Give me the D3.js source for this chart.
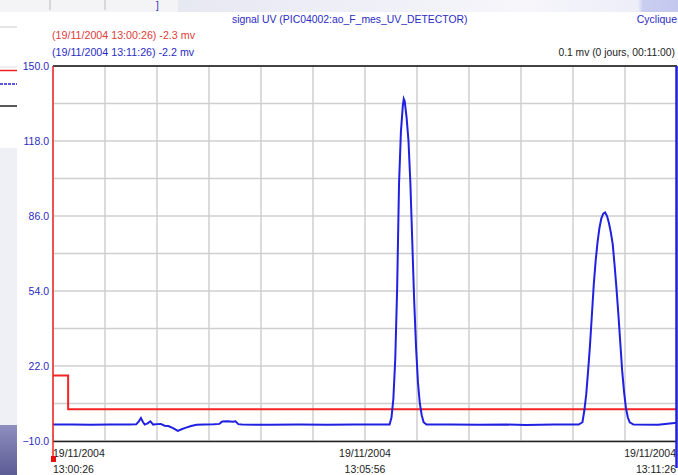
<!DOCTYPE html>
<head>
<meta charset="utf-8">
<style>
body{
    margin:0;
    background:#fff;
}
svg{ display:block; }
text{ font-family:"Liberation Sans", Arial, sans-serif; }
</style>
<title>signal UV</title>
</head>

<body>
<svg id="chart" width="678" height="475"></svg>
<script src="https://d3js.org/d3.v7.min.js"></script>
<script>
// time in seconds after 19/11/2004 13:00:26
var uvTimes = [0,20,40,60,80,88,91,93,95,97,100,103,106,110,114,118,122,127,132,136,140,146,152,160,170,176,179,185,190,193,196,200,230,260,290,320,345,
    356,358,360,362,364,366,368,370,371,372,374,376,378,380,382,384,386,388,390,392,395,
    420,450,480,500,530,556,
    560,562,564,566,568,570,572,574,576,578,580,582,584,586,588,590,592,594,596,598,600,602,604,606,608,610,614,
    640,660];
var uvValues = [-3,-3,-3.1,-3,-3,-2.9,-1.5,-0.2,-1.8,-3,-2.5,-1.6,-3,-2.8,-2.7,-3.5,-3.6,-4.5,-5.7,-5,-4.4,-3.6,-3.1,-3,-2.9,-2.7,-1.7,-1.6,-1.8,-1.6,-2.8,-3,-3.1,-3,-3.1,-3,-3,
    -3,0,8,25,55,100,122,133,136,135,128,118,100,75,50,30,15,6,1,-2,-3,
    -3,-3.1,-3,-3.2,-3,-3,
    -2,3,10,20,31,44,57,67,75,81,85,87,87.5,86,83,79,74,65,55,44,32,20,11,4,0,-2,-3,
    -3.1,-2.2];

var refTimes = [0,16,660];
var refValues = [18,3.5,3.5];

var yTicks = [-10,22,54,86,118,150];
var xLabelTimes = [0,330,660];
var xLabelDates = ["19/11/2004","19/11/2004","19/11/2004"];
var xLabelHours = ["13:00:26","13:05:56","13:11:26"];

var svg = d3.select("#chart");
var m = {l:53, r:677, t:66, b:441};

var x = d3.scaleLinear().domain([0,660]).range([m.l, m.r]);
var y = d3.scaleLinear().domain([-10,150]).range([m.b, m.t]);

var blueTxt = "#2b2bc4", redTxt = "#e03a3a";

// screenshot surroundings
var bg = svg.append("defs");
var g1 = bg.append("linearGradient").attr("id","topg").attr("x1",0).attr("x2",1);
g1.append("stop").attr("offset",0).attr("stop-color","#e6e8f2");
g1.append("stop").attr("offset",0.7).attr("stop-color","#f6f6fb");
g1.append("stop").attr("offset",0.92).attr("stop-color","#eceef8");
g1.append("stop").attr("offset",0.93).attr("stop-color","#c9cdf0");
g1.append("stop").attr("offset",1).attr("stop-color","#c4c8ee");
var g2 = bg.append("linearGradient").attr("id","botg").attr("x1",0).attr("x2",0).attr("y1",0).attr("y2",1);
g2.append("stop").attr("offset",0).attr("stop-color","#8e8fbf");
g2.append("stop").attr("offset",1).attr("stop-color","#5c5c95");

svg.append("rect").attr("x",0).attr("y",0).attr("width",178).attr("height",12).attr("fill","#f4f4f6");
svg.append("rect").attr("x",178).attr("y",0).attr("width",500).attr("height",12).attr("fill","url(#topg)");
[50,105].forEach(function(d){
    svg.append("line").attr("x1",d).attr("x2",d).attr("y1",0).attr("y2",10).attr("stroke","#bbb");
});
svg.append("line").attr("x1",0).attr("x2",17).attr("y1",27).attr("y2",27).attr("stroke","#ccc");
svg.append("text").attr("x",156).attr("y",9).attr("fill",blueTxt).attr("font-size",10).text("]");
svg.append("rect").attr("x",0).attr("y",148).attr("width",17).attr("height",277).attr("fill","#efeff6");
svg.append("rect").attr("x",0).attr("y",425).attr("width",17).attr("height",50).attr("fill","url(#botg)");
svg.append("line").attr("x1",0).attr("x2",17).attr("y1",67).attr("y2",67).attr("stroke","#ddd").attr("stroke-width",1);
svg.append("line").attr("x1",0).attr("x2",17).attr("y1",70.5).attr("y2",70.5).attr("stroke","#f02020").attr("stroke-width",1.5);
svg.append("line").attr("x1",0).attr("x2",17).attr("y1",84).attr("y2",84).attr("stroke","#2424d8").attr("stroke-width",1.5).attr("stroke-dasharray","3,1");
svg.append("line").attr("x1",0).attr("x2",17).attr("y1",106).attr("y2",106).attr("stroke","#222").attr("stroke-width",1.5);

// header texts
svg.append("text").attr("x",232).attr("y",23).attr("fill",blueTxt).attr("font-size",10.4)
    .text("signal UV (PIC04002:ao_F_mes_UV_DETECTOR)");
svg.append("text").attr("x",677).attr("y",23).attr("text-anchor","end").attr("fill",blueTxt).attr("font-size",10.5)
    .text("Cyclique");
svg.append("text").attr("x",52).attr("y",39).attr("fill",redTxt).attr("font-size",10.7)
    .text("(19/11/2004 13:00:26) -2.3 mv");
svg.append("text").attr("x",52).attr("y",56).attr("fill",blueTxt).attr("font-size",10.7)
    .text("(19/11/2004 13:11:26) -2.2 mv");
svg.append("text").attr("x",675).attr("y",56).attr("text-anchor","end").attr("fill","#222").attr("font-size",10.3)
    .text("0.1 mv (0 jours, 00:11:00)");

// grid
var grid = svg.append("g");
grid.selectAll(".gy").data(d3.range(-10,151,16)).enter().append("line")
    .attr("x1",m.l).attr("x2",m.r)
    .attr("y1",function(d){ return y(d); }).attr("y2",function(d){ return y(d); })
    .attr("stroke","#cfcfcf").attr("stroke-width",1.5);
grid.selectAll(".gx").data(d3.range(0,661,55)).enter().append("line")
    .attr("x1",function(d){ return x(d); }).attr("x2",function(d){ return x(d); })
    .attr("y1",m.t).attr("y2",m.b)
    .attr("stroke","#cfcfcf").attr("stroke-width",1.5);

// frame lines
svg.append("line").attr("x1",m.l).attr("x2",m.r).attr("y1",m.t).attr("y2",m.t).attr("stroke","#111").attr("stroke-width",1.5);
svg.append("line").attr("x1",m.l).attr("x2",m.r).attr("y1",m.b+0.5).attr("y2",m.b+0.5).attr("stroke","#222").attr("stroke-width",1.5);

// y axis labels
var yAxis = d3.axisLeft(y).tickValues(yTicks).tickSize(0).tickPadding(4).tickFormat(d3.format(".1f"));
var ya = svg.append("g").attr("transform","translate("+m.l+",0)").call(yAxis);
ya.select(".domain").remove();
ya.selectAll("text").attr("fill",blueTxt).attr("font-size",10.5).attr("font-family","Liberation Sans, Arial, sans-serif");

// x labels
var xl = svg.append("g");
xLabelTimes.forEach(function(t,i){
    var anchor = i==0 ? "start" : (i==xLabelTimes.length-1 ? "end" : "middle");
    var px = x(t) + (i==xLabelTimes.length-1 ? -1 : 0);
    xl.append("text").attr("x",px).attr("y",457).attr("text-anchor",anchor).attr("fill","#222").attr("font-size",10.5).text(xLabelDates[i]);
    xl.append("text").attr("x",px).attr("y",473).attr("text-anchor",anchor).attr("fill","#222").attr("font-size",10.5).text(xLabelHours[i]);
});

// red reference trace
var refData = refTimes.map(function(t,i){ return [t, refValues[i]]; });
svg.append("path").datum(refData)
    .attr("fill","none").attr("stroke","#f52525").attr("stroke-width",2)
    .attr("d", d3.line().curve(d3.curveStepAfter).x(function(d){ return x(d[0]); }).y(function(d){ return y(d[1]); }));

// blue UV trace
var uvData = uvTimes.map(function(t,i){ return [t, uvValues[i]]; });
svg.append("path").datum(uvData)
    .attr("fill","none").attr("stroke","#2020e0").attr("stroke-width",2)
    .attr("d", d3.line().x(function(d){ return x(d[0]); }).y(function(d){ return y(d[1]); }));

// cursors
svg.append("line").attr("x1",m.l).attr("x2",m.l).attr("y1",m.t).attr("y2",462).attr("stroke","#f52525").attr("stroke-width",1.5);
svg.append("rect").attr("x",m.l-2).attr("y",456).attr("width",5).attr("height",6).attr("fill","#e81010");
svg.append("line").attr("x1",m.r-0.5).attr("x2",m.r-0.5).attr("y1",m.t).attr("y2",468).attr("stroke","#2020e0").attr("stroke-width",2.5);
</script>
</body>
